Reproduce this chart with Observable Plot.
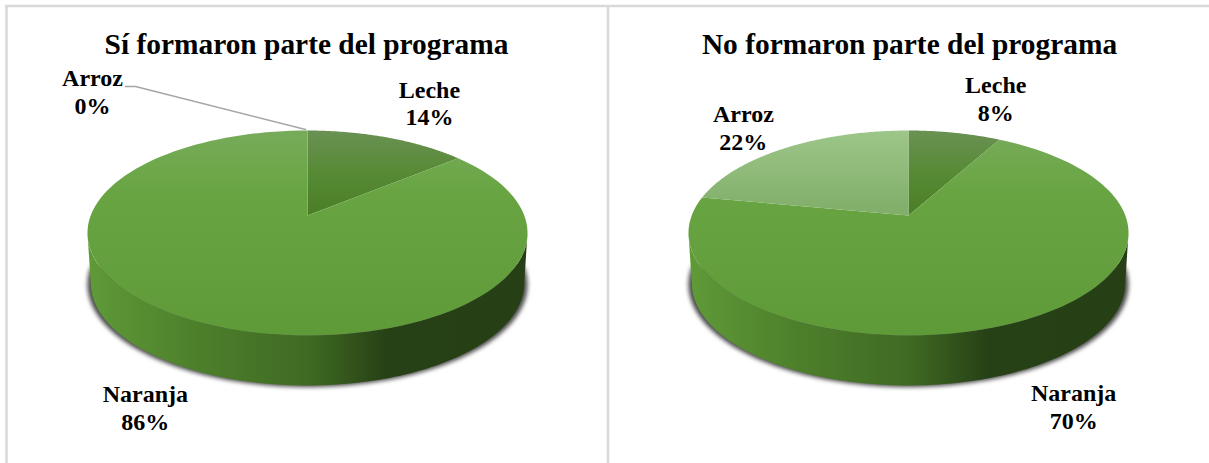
<!DOCTYPE html>
<html><head><meta charset="utf-8">
<style>html,body{margin:0;padding:0;background:#fff}svg{display:block}</style>
<script src="https://cdn.jsdelivr.net/npm/d3@7"></script>
<script src="https://cdn.jsdelivr.net/npm/@observablehq/plot@0.6"></script>
</head><body><div id="chart"></div>
<script>
const categories = ["Leche", "Naranja", "Arroz"];
const siValues = [14, 86, 0];
const noValues = [8, 70, 22];
const chartTitles = ["Sí formaron parte del programa", "No formaron parte del programa"];

// layout of the two drawings
const W = 1209, H = 463;
const centers = [307, 908], apexY = 215, depth = 50;
const k = 0.1707, a = 99.5, b = 216.8;           // perspective of the pie's disc
const labelShift = [
  {Leche: [42, -35], Naranja: [-53, 85], Arroz: [-215, -39.5]},
  {Leche: [41, -35], Naranja: [56, 84], Arroz: [-43, -20.5]}
];
const paints = {Leche: "url(#faceLeche)", Naranja: "url(#faceNaranja)", Arroz: "url(#faceArroz)"};

const project = (cx, deg, dy = 0, w = 1) => {
  const t = deg * Math.PI / 180, u = Math.sin(t), v = Math.cos(t), d = 1 + k * v;
  return [cx + w * b * u / d, apexY - a * v / d + dy];
};
const arcDegs = (d0, d1) => d3.range(0, 121).map(i => d0 + (d1 - d0) * i / 120);
const widest = Math.acos(-k) * 180 / Math.PI;   // angle at which the disc is widest

const faces = [], sides = [], shadows = [], texts = [], leaders = [], titles = [];
[siValues, noValues].forEach((vals, c) => {
  const cx = centers[c];
  titles.push({x: cx - 1 + c * 2, y: 44, text: chartTitles[c]});
  const total = d3.sum(vals);
  let start = 0;
  categories.forEach((cat, i) => {
    const end = start + vals[i] / total * 360;
    const id = `${c}-${cat}`;
    if (vals[i] > 0) {
      faces.push({x: cx, y: apexY, id, paint: paints[cat]});
      for (const d of arcDegs(start, end)) {
        const [x, y] = project(cx, d);
        faces.push({x, y, id, paint: paints[cat]});
      }
    }
    const mid = (start + end) / 2 || 360;
    const [mx, my] = project(cx, mid);
    const [sx, sy] = labelShift[c][cat];
    texts.push({x: mx + sx, y: my + sy, text: `${cat}\n${vals[i]}%`});
    if (vals[i] === 0) {
      const [ex, ey] = project(cx, end);
      leaders.push({x: ex - 2, y: ey - 1, id: cat}, {x: ex - 172, y: ey - 44, id: cat}, {x: ex - 182, y: ey - 44, id: cat});
    }
    start = end;
  });
  // visible wall: lower half of the top rim and the same rim lowered by the depth
  const lower = arcDegs(widest, 360 - widest);
  const upper = lower.map(d => project(cx, d));
  const base = lower.map(d => project(cx, d, depth, 0.985)).reverse();
  for (const [x, y] of [...upper, ...base]) sides.push({x, y, id: c, paint: `url(#wall${c})`});
  for (const d of arcDegs(widest - 10, 370 - widest)) {
    const [x, y] = project(cx, d, depth + 1.5, 1);
    shadows.push({x, y, id: c});
  }
});

const defs = () => {
  const s = d3.create("svg:defs");
  const grad = (id, attrs, stops) => {
    const g = s.append("linearGradient").attr("id", id).attr("gradientUnits", "userSpaceOnUse");
    Object.entries(attrs).forEach(([k, v]) => g.attr(k, v));
    stops.forEach(([o, col]) => g.append("stop").attr("offset", o).attr("stop-color", col));
  };
  const vert = {x1: 0, x2: 0, y1: 130, y2: 335};
  grad("faceNaranja", vert, [[0, "#77ab5a"], [0.3, "#68a542"], [1, "#5f9a39"]]);
  grad("faceLeche", {x1: 0, x2: 0, y1: 130, y2: 215}, [[0, "#6a9153"], [0.5, "#578a35"], [1, "#4a7e25"]]);
  grad("faceArroz", {x1: 0, x2: 0, y1: 130, y2: 215}, [[0, "#9dc689"], [1, "#80ad68"]]);
  centers.forEach((cx, c) => grad(`wall${c}`, {x1: cx - 220, x2: cx + 220, y1: 0, y2: 0},
    [[0, "#5f9a38"], [0.25, "#4d7f2b"], [0.5, "#3f6a23"], [0.68, "#274116"], [1, "#263f15"]]));
  return s.node();
};

const plot = Plot.plot({
  width: W, height: H, margin: 0, style: {background: "#fff"},
  x: {domain: [0, W], range: [0, W], axis: null},
  y: {domain: [0, H], range: [0, H], axis: null},
  marks: [
    defs,
    Plot.ruleY([5.5], {x1: 5, x2: W, stroke: "#d9d9d9", strokeWidth: 2.5}),
    Plot.ruleX([6, 607.5], {y1: 5, y2: H, stroke: "#d9d9d9", strokeWidth: 2.5}),
    Plot.line(shadows, {x: "x", y: "y", z: "id", fill: "#4a4a4a", stroke: "none"}),
    Plot.line(sides, {x: "x", y: "y", z: "id", fill: "paint", stroke: "none"}),
    Plot.line(faces, {x: "x", y: "y", z: "id", fill: "paint", stroke: "none"}),
    Plot.line(leaders, {x: "x", y: "y", z: "id", stroke: "#a6a6a6", strokeWidth: 1.5}),
    Plot.text(titles, {x: "x", y: "y", text: "text", fontFamily: "Liberation Serif", fontWeight: "bold", fontSize: 29.4, fill: "#000"}),
    Plot.text(texts, {x: "x", y: "y", text: "text", fontFamily: "Liberation Serif", fontWeight: "bold", fontSize: 24, lineHeight: 1.16, fill: "#000"})
  ]
});
const shadowGroup = plot.querySelector('g[aria-label="line"]');
if (shadowGroup) shadowGroup.style.filter = "blur(2px)";
document.getElementById("chart").append(plot);
</script></body></html>
